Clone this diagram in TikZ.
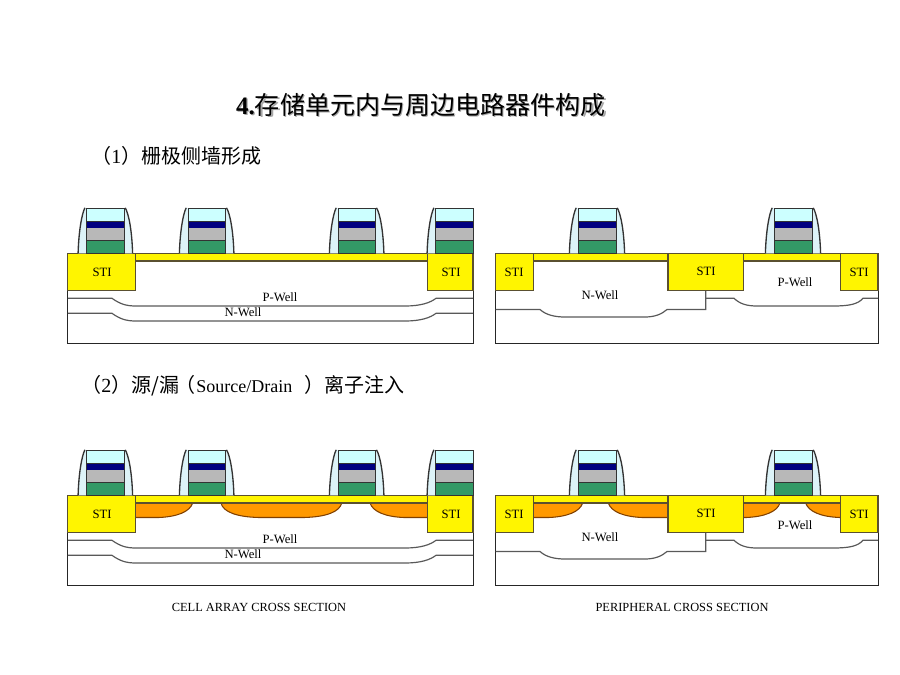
\documentclass[tikz,border=0pt]{standalone}
\usepackage{fontspec}
\setmainfont{Liberation Serif}
\newfontfamily\cjk{Noto Sans CJK SC}
\definecolor{capc}{HTML}{CCFFFF}
\definecolor{navyc}{HTML}{000080}
\definecolor{grayc}{HTML}{B8B8B8}
\definecolor{greenc}{HTML}{339966}
\definecolor{spacerc}{HTML}{DDF3F8}
\definecolor{yel}{HTML}{FFF500}
\definecolor{orng}{HTML}{FF9900}
\definecolor{edgec}{HTML}{5A5030}
\tikzset{
  x=0.75pt,y=-0.75pt,
  layer/.style={draw=black!80,line width=0.6pt},
  spacerfill/.style={fill=spacerc,draw=none},
  spacerline/.style={draw=black!80,line width=1pt},
  stibox/.style={fill=yel,draw=edgec,line width=0.8pt},
  band/.style={fill=yel,draw=edgec,line width=1pt},
  wellline/.style={draw=black!65,line width=0.9pt},
  frameline/.style={draw=black!85,line width=0.7pt},
  orangebox/.style={fill=orng,draw=none},
  orangeline/.style={draw=orange!50!black,line width=0.8pt},
  lab/.style={inner sep=0pt,font=\fontsize{9.5}{10}\selectfont},
  capt/.style={inner sep=0pt,font=\fontsize{9.3}{10}\selectfont},
  head/.style={inner sep=0pt,anchor=west,font=\fontsize{15}{17}\cjk},
}
% gate stack between x=#1 and x=#2
\newcommand{\gatestack}[2]{%
  \fill[capc] (#1,208.3) rectangle (#2,221.3);
  \fill[navyc] (#1,221.3) rectangle (#2,227.6);
  \fill[grayc] (#1,227.6) rectangle (#2,240.6);
  \fill[greenc] (#1,240.6) rectangle (#2,253.3);
  \draw[layer] (#1,208.3) rectangle (#2,253.3);
  \draw[layer] (#1,221.3) -- (#2,221.3) (#1,240.6) -- (#2,240.6);
}
\newcommand{\spacerleft}[1]{%
  \path[spacerfill] (#1-8.6,253.3) .. controls (#1-8,232) and (#1-5,214) .. (#1-1.8,207.8) -- (#1,207.8) -- (#1,253.3) -- cycle;
  \draw[spacerline] (#1-8.6,253.3) .. controls (#1-8,232) and (#1-5,214) .. (#1-1.8,207.8);
}
\newcommand{\spacerright}[1]{%
  \path[spacerfill] (#1+8.6,253.3) .. controls (#1+8,232) and (#1+5,214) .. (#1+1.2,207.8) -- (#1,207.8) -- (#1,253.3) -- cycle;
  \draw[spacerline] (#1+8.6,253.3) .. controls (#1+8,232) and (#1+5,214) .. (#1+1.2,207.8);
}
\newcommand{\fullgate}[2]{\spacerleft{#1}\spacerright{#2}\gatestack{#1}{#2}}
\newcommand{\implantR}[2]{% flat left at x=#1, curve up to the right at x=#2
  \path[orangebox] (#1,261) -- (#2,261) .. controls (#2-3,270) and (#2-16,274.8) .. (#2-34,275.5) -- (#1,275.5) -- cycle;
  \draw[orangeline] (#2,261) .. controls (#2-3,270) and (#2-16,274.8) .. (#2-34,275.5) -- (#1,275.5);
}
\newcommand{\implantL}[2]{% curve up to the left at x=#1, flat right at x=#2
  \path[orangebox] (#1,261) -- (#2,261) -- (#2,275.5) -- (#1+34,275.5) .. controls (#1+16,274.8) and (#1+3,270) .. (#1,261) -- cycle;
  \draw[orangeline] (#2,275.5) -- (#1+34,275.5) .. controls (#1+16,274.8) and (#1+3,270) .. (#1,261);
}
\newcommand{\implantB}[2]{% curves at both ends
  \path[orangebox] (#1,261) -- (#2,261) .. controls (#2-2,270) and (#2-16,275) .. (#2-38,275.5) -- (#1+38,275.5) .. controls (#1+16,275) and (#1+2,270) .. (#1,261) -- cycle;
  \draw[orangeline] (#2,261) .. controls (#2-2,270) and (#2-16,275) .. (#2-38,275.5) -- (#1+38,275.5) .. controls (#1+16,275) and (#1+2,270) .. (#1,261);
}
\newcommand{\cellpanel}{%
  \draw[frameline] (67.8,253.3) -- (67.8,343.5) -- (473,343.5) -- (473,253.3);
  \draw[wellline] (67.8,298.3) -- (112,298.3) .. controls (120,304) and (126,306) .. (136,306) -- (405,306) .. controls (420,306) and (430,303) .. (436,298.3) -- (473,298.3);
  \draw[wellline] (67.8,313.3) -- (112,313.3) .. controls (120,319) and (126,321) .. (136,321) -- (405,321) .. controls (420,321) and (430,318) .. (436,313.3) -- (473,313.3);
}
\newcommand{\cellbands}{%
  \draw[band] (135.7,253.3) rectangle (427.7,261);
  \draw[stibox] (67.8,253.3) rectangle (135.7,290.7);
  \draw[stibox] (427.7,253.3) rectangle (473,290.7);
  \fullgate{86.7}{124}
  \fullgate{188}{225.3}
  \fullgate{338}{375.3}
  \spacerleft{435.7}\gatestack{435.7}{473}
}
\newcommand{\periphpanel}{%
  \draw[frameline] (495.5,253.3) -- (495.5,343.5) -- (878,343.5) -- (878,253.3);
  \draw[wellline] (495.5,309.5) -- (540,309.5) .. controls (546,315) and (555,317) .. (565,317) -- (645,317) .. controls (655,317) and (662,314) .. (667,309.5) -- (705.7,309.5) -- (705.7,290.7);
  \draw[wellline] (705.7,298.3) -- (734,298.3) .. controls (740,304) and (747,306) .. (757,306) -- (833,306) .. controls (850,306) and (858,304) .. (863,298.3) -- (878,298.3);
}
\newcommand{\periphbands}{%
  \draw[band] (533.5,253.3) rectangle (668,261);
  \draw[band] (743.3,253.3) rectangle (840.3,261);
  \draw[stibox] (495.5,253.3) rectangle (533.5,290.7);
  \draw[stibox] (668,253.3) rectangle (743.3,290.7);
  \draw[stibox] (840.3,253.3) rectangle (878,290.7);
  \fullgate{578}{616}
  \fullgate{774}{812}
}
\begin{document}
\begin{tikzpicture}
\useasboundingbox (0,0) rectangle (900,675);
% title
\node[inner sep=0pt,text=black!35,font=\fontsize{18.8}{21}\cjk] (titleshadow) at (422.2,106.2) {{\rmfamily\bfseries 4.}存储单元内与周边电路器件构成};
\node[inner sep=0pt,font=\fontsize{18.8}{21}\cjk] (title) at (421,105) {{\rmfamily\bfseries 4.}存储单元内与周边电路器件构成};
\node[head] (h1) at (91,156) {（{\rmfamily 1}）栅极侧墙形成};
\node[head] (h2) at (81,386) {（{\rmfamily 2}）源/漏\hspace{-3pt}（\hspace{1pt}{\rmfamily\fontsize{13.5}{17}\selectfont Source/Drain}\hspace{9pt}）离子注入};
% row 1
\cellpanel
\cellbands
\periphpanel
\periphbands
\node[lab] (s1) at (102,272) {STI};
\node[lab] (s2) at (451,272) {STI};
\node[lab] (p1) at (280,297) {P-Well};
\node[lab] (n1) at (243,312) {N-Well};
\node[lab] (s3) at (514,272) {STI};
\node[lab] (s4) at (706,271) {STI};
\node[lab] (s5) at (859,272) {STI};
\node[lab] (n2) at (600,295) {N-Well};
\node[lab] (p2) at (795,282) {P-Well};
% row 2
\begin{scope}[shift={(0,242)}]
\cellpanel
\implantR{135.7}{192.7}
\implantB{221}{341.7}
\implantL{370}{427.7}
\implantR{533.5}{582.7}
\implantL{608.3}{668}
\implantR{743.3}{780}
\implantL{805.7}{840.3}
\periphpanel
\cellbands
\periphbands
\node[lab] (s6) at (102,272) {STI};
\node[lab] (s7) at (451,272) {STI};
\node[lab] (p3) at (280,297) {P-Well};
\node[lab] (n3) at (243,312) {N-Well};
\node[lab] (s8) at (514,272) {STI};
\node[lab] (s9) at (706,271) {STI};
\node[lab] (s10) at (859,272) {STI};
\node[lab] (n4) at (600,295) {N-Well};
\node[lab] (p4) at (795,283) {P-Well};
\end{scope}
\node[capt] (c1) at (259,607.5) {CELL ARRAY CROSS SECTION};
\node[capt] (c2) at (682,607.5) {PERIPHERAL CROSS SECTION};
\end{tikzpicture}
\end{document}
